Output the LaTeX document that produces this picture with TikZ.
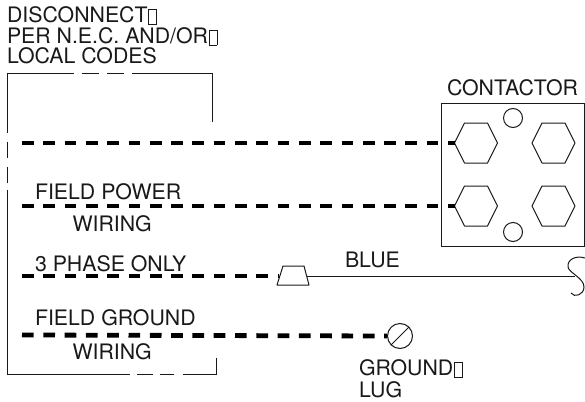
\documentclass[tikz,border=0pt]{standalone}
\usepackage{fontspec}
\setmainfont{TeX Gyre Heros}
\newcommand{\tofu}{\kern0.8pt\raisebox{-1.5pt}{\fboxsep=0pt\fboxrule=0.5pt\fbox{\phantom{\rule{7.5pt}{14.5pt}}}}}
\tikzset{
  lbl/.style={anchor=base west,inner sep=0pt,outer sep=0pt,font=\fontsize{21.3}{24}\selectfont,text=black!90},
  heavy/.style={line width=4.8pt,dash pattern=on 11.7pt off 9.6pt},
  thin line/.style={draw=black!90,line width=1pt},
  hexa/.style={thin line,line join=round}
}
\begin{document}
\begin{tikzpicture}[x=1pt,y=-1pt]
\useasboundingbox (0,0) rectangle (585,401);
% labels
\node[lbl] (t1) at (7,22.5) {DISCONNECT\tofu};
\node[lbl] (t2) at (7,43.5) {PER N.E.C. AND/OR\tofu};
\node[lbl] (t3) at (7,63.5) {LOCAL CODES};
\node[lbl] (t4) at (35,199.5) {FIELD POWER};
\node[lbl] (t5) at (72.5,231.5) {WIRING};
\node[lbl] (t6) at (35,271.5) {3 PHASE ONLY};
\node[lbl] (t7) at (35,325.5) {FIELD GROUND};
\node[lbl] (t8) at (72.5,359.5) {WIRING};
\node[lbl] (t9) at (345,267.5) {BLUE};
\node[lbl] (t10) at (447,95.5) {CONTACTOR};
\node[lbl] (t11) at (359,375.5) {GROUND\tofu};
\node[lbl] (t12) at (359,397.5) {LUG};
% enclosure
\draw[thin line] (74,74) -- (7,74) -- (7,133);
\draw[thin line] (82,74) -- (99,74) (107,74) -- (124,74);
\draw[thin line] (132,74) -- (212,74) -- (212,122);
\draw[thin line] (7,142) -- (7,158) (7,167) -- (7,183);
\draw[thin line] (7,190) -- (7,374) -- (130,374);
\draw[thin line] (137,374) -- (153,374) (160,374) -- (174,374);
\draw[thin line] (183,374) -- (216,374) -- (216,358);
% contactor
\node[draw=black!90,line width=1pt,minimum width=143pt,minimum height=143pt,inner sep=0pt] (box) at (512.5,174.5) {};
\foreach \n/\cx/\cy in {a/476/143,b/553.5/143,c/476/206,d/553.5/206}{
  \draw[hexa] (\cx-21.5,\cy) -- (\cx-11.5,\cy-20) -- (\cx+11.5,\cy-20) -- (\cx+21.5,\cy) -- (\cx+11.5,\cy+20) -- (\cx-11.5,\cy+20) -- cycle;
  \coordinate (h\n) at (\cx-21.5,\cy);
}
\node[draw=black!90,line width=1pt,circle,minimum size=19pt,inner sep=0pt] (c1) at (513,118) {};
\node[draw=black!90,line width=1pt,circle,minimum size=19pt,inner sep=0pt] (c2) at (513,232) {};
% heavy wires
\coordinate (w1) at (22,143);
\coordinate (w2) at (22,206);
\coordinate (w3) at (22,276);
\coordinate (w4) at (22,335);
\draw[heavy] (w1) -- (ha);
\draw[heavy] (w2) -- (hc);
% plug
\draw[thin line,line join=round] (277,285) -- (283,266) -- (304,266) -- (309,285) -- cycle;
\coordinate (plugL) at (279,276);
\coordinate (plugR) at (307,276);
\draw[heavy] (w3) -- (plugL);
% squiggle
\coordinate (sq) at (575,276);
\draw[thin line] (plugR) -- (sq);
\draw[thin line] (585,258) .. controls (575,255) and (567,260) .. (568,267) .. controls (569,273) and (584,278) .. (584,287) .. controls (584,295) and (574,298) .. (571,293);
% ground lug
\node[draw=black!90,line width=1pt,circle,minimum size=25pt,inner sep=0pt] (lug) at (400,336) {};
\draw[thin line] (lug.south west) -- (lug.north east);
\draw[heavy] (w4) -- (lug.west);
\end{tikzpicture}
\end{document}
